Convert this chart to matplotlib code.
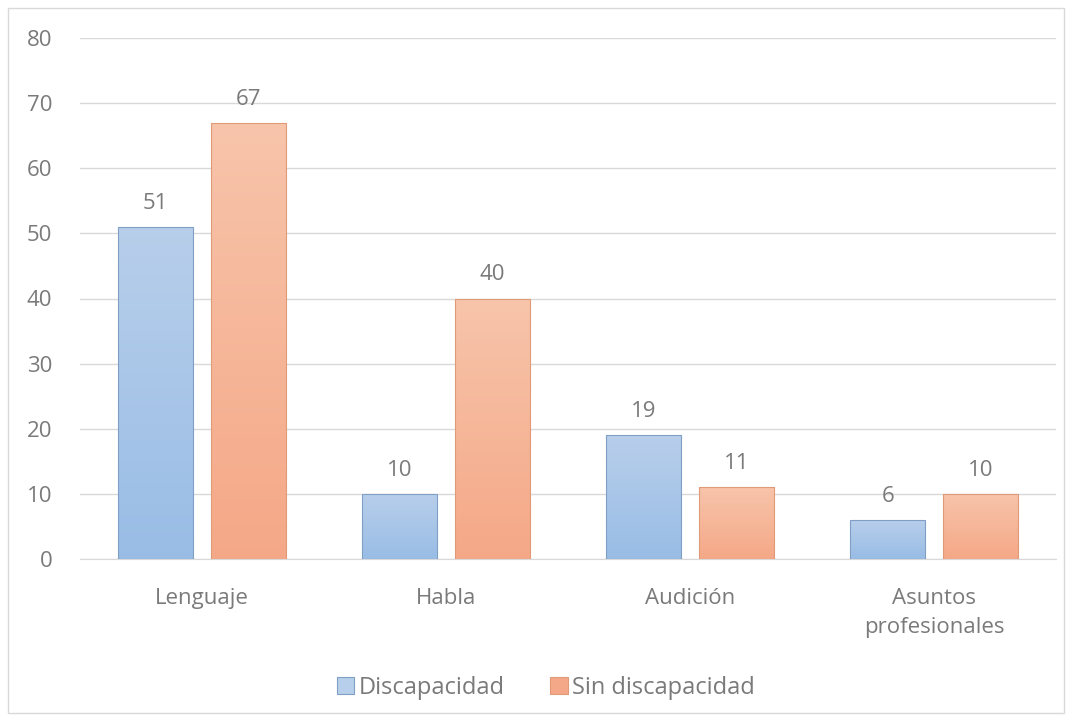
import matplotlib
matplotlib.use("Agg")

import matplotlib.pyplot as plt
import numpy as np
from matplotlib.patches import Rectangle

cats = ["Lenguaje", "Habla", "Audición", "Asuntos\nprofesionales"]
disc = [51, 10, 19, 6]
sin_disc = [67, 40, 11, 10]
series = ["Discapacidad", "Sin discapacidad"]

plt.rcParams["font.family"] = ["Open Sans", "DejaVu Sans"]
tc = "#7a7a7a"
fs = 16

fig = plt.figure(figsize=(10.72, 7.21), dpi=100)
ax = fig.add_axes([80 / 1072, 1 - 559 / 721, (1056 - 80) / 1072, (559 - 38) / 721])

fig.add_artist(Rectangle((8 / 1072, 8 / 721), 1056 / 1072, 705 / 721, transform=fig.transFigure,
                         fill=False, edgecolor="#d9d9d9", linewidth=1))

x = np.arange(len(cats))
w = 0.31
off = 0.19

grads = [
    ((0.72, 0.81, 0.92), (0.60, 0.74, 0.90), "#7f9fc4"),
    ((0.97, 0.77, 0.67), (0.96, 0.66, 0.53), "#e09a78"),
]

for vals, sgn, (top, bot, ec) in zip([disc, sin_disc], [-1, 1], grads):
    g = np.linspace(0, 1, 100)
    img = np.zeros((100, 1, 3))
    for k in range(3):
        img[:, 0, k] = top[k] + (bot[k] - top[k]) * g
    for xi, v in zip(x, vals):
        x0 = xi + sgn * off - w / 2
        r = Rectangle((x0, 0), w, v, facecolor="none", edgecolor=ec, linewidth=0.8, zorder=4)
        ax.add_patch(r)
        im = ax.imshow(img, extent=(x0, x0 + w, 0, v), aspect="auto", zorder=3, interpolation="bilinear")
        im.set_clip_path(r)
        ax.text(xi + sgn * off, v + 2.0, str(v), ha="center", va="bottom", fontsize=fs, color=tc)

ax.set_xlim(-0.5, len(cats) - 0.5)
ax.set_ylim(0, 80)
ax.set_yticks(range(0, 81, 10))
ax.set_xticks(x)
ax.set_xticklabels(cats, linespacing=1.5)
ax.tick_params(axis="both", length=0, labelsize=fs, colors=tc)
ax.tick_params(axis="y", pad=20)
ax.tick_params(axis="x", pad=21)
ax.grid(axis="y", color="#d9d9d9", linewidth=1)
ax.set_axisbelow(True)
for s in ["top", "right", "left"]:
    ax.spines[s].set_visible(False)
ax.spines["bottom"].set_color("#d9d9d9")

h = [Rectangle((0, 0), 1, 1, facecolor=grads[0][0], edgecolor=grads[0][2], linewidth=0.8),
     Rectangle((0, 0), 1, 1, facecolor=grads[1][1], edgecolor=grads[1][2], linewidth=0.8)]
fig.legend(h, series, loc="center", bbox_to_anchor=(546 / 1072, 1 - 688 / 721), ncol=2, frameon=False,
           fontsize=17, labelcolor=tc, handlelength=0.75, handleheight=0.75, handletextpad=0.2, columnspacing=1.9)

fig.savefig("out.png", dpi=100)
